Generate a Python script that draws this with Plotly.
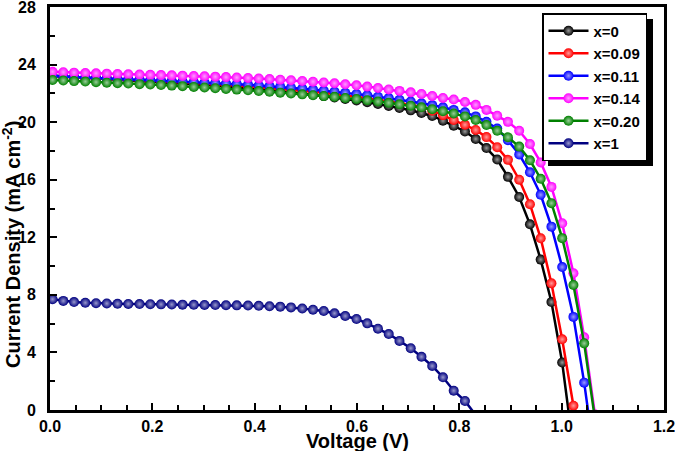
import plotly.graph_objects as go

# Voltage grid (V)
voltage = [0.005, 0.026, 0.047, 0.069, 0.090, 0.111, 0.132, 0.153, 0.175, 0.196,
           0.217, 0.238, 0.259, 0.281, 0.302, 0.323, 0.344, 0.365, 0.387, 0.408,
           0.429, 0.450, 0.471, 0.493, 0.514, 0.535, 0.556, 0.577, 0.599, 0.620,
           0.641, 0.662, 0.683, 0.705, 0.726, 0.747, 0.768, 0.789, 0.811, 0.832,
           0.853, 0.874, 0.895, 0.917, 0.938, 0.959, 0.980, 1.001, 1.023, 1.044,
           1.065, 1.086]

# Current density (mA cm^-2)
j_x0 = [23.20, 23.15, 23.11, 23.07, 23.03, 22.99, 22.95, 22.91, 22.87, 22.83,
        22.79, 22.74, 22.69, 22.64, 22.59, 22.54, 22.48, 22.42, 22.36, 22.29,
        22.22, 22.15, 22.07, 21.99, 21.90, 21.81, 21.71, 21.61, 21.50, 21.38,
        21.26, 21.13, 20.98, 20.82, 20.64, 20.43, 20.10, 19.75, 19.35, 18.83,
        18.20, 17.40, 16.20, 14.80, 12.90, 10.45, 7.50, 3.30, -2.70]

j_x009 = [23.18, 23.14, 23.10, 23.07, 23.04, 23.01, 22.98, 22.95, 22.92, 22.88,
          22.85, 22.81, 22.77, 22.73, 22.69, 22.65, 22.60, 22.55, 22.50, 22.45,
          22.39, 22.33, 22.26, 22.19, 22.12, 22.04, 21.96, 21.87, 21.78, 21.68,
          21.57, 21.46, 21.34, 21.21, 21.06, 20.80, 20.48, 20.15, 19.82, 19.46,
          18.96, 18.26, 17.38, 16.00, 14.30, 11.93, 8.80, 4.91, 0.30, -4.50]

j_x011 = [23.20, 23.16, 23.12, 23.09, 23.06, 23.03, 23.00, 22.97, 22.94, 22.91,
          22.88, 22.85, 22.82, 22.79, 22.76, 22.72, 22.68, 22.64, 22.60, 22.55,
          22.50, 22.45, 22.39, 22.33, 22.26, 22.19, 22.12, 22.04, 21.96, 21.87,
          21.77, 21.67, 21.56, 21.44, 21.31, 21.18, 21.03, 20.85, 20.68, 20.40,
          20.02, 19.55, 18.75, 17.75, 16.52, 14.95, 12.74, 9.93, 6.47, 1.90,
          -3.50]

j_x014 = [23.50, 23.47, 23.44, 23.41, 23.39, 23.37, 23.35, 23.33, 23.31, 23.29,
          23.27, 23.25, 23.23, 23.21, 23.19, 23.16, 23.13, 23.10, 23.07, 23.03,
          22.99, 22.95, 22.91, 22.86, 22.81, 22.76, 22.70, 22.63, 22.56, 22.47,
          22.37, 22.27, 22.17, 22.07, 21.96, 21.82, 21.68, 21.57, 21.40, 21.20,
          20.85, 20.45, 20.02, 19.40, 18.48, 17.20, 15.50, 12.97, 9.50, 5.05,
          -0.30]

j_x020 = [22.93, 22.89, 22.85, 22.82, 22.78, 22.74, 22.71, 22.68, 22.64, 22.61,
          22.58, 22.54, 22.50, 22.45, 22.41, 22.36, 22.31, 22.26, 22.21, 22.16,
          22.11, 22.05, 21.99, 21.93, 21.87, 21.81, 21.76, 21.68, 21.61, 21.52,
          21.43, 21.34, 21.24, 21.14, 21.03, 20.90, 20.76, 20.60, 20.40, 20.15,
          19.80, 19.40, 18.95, 18.30, 17.35, 16.07, 14.37, 11.94, 8.69, 4.63,
          -0.60]

j_x1 = [7.70, 7.58, 7.50, 7.45, 7.42, 7.40, 7.38, 7.37, 7.36, 7.35,
        7.34, 7.33, 7.32, 7.31, 7.30, 7.29, 7.28, 7.27, 7.26, 7.24,
        7.21, 7.18, 7.13, 7.05, 6.97, 6.88, 6.72, 6.53, 6.32, 6.02,
        5.65, 5.28, 4.80, 4.29, 3.70, 3.06, 2.27, 1.34, 0.63, -0.35]

series_names = ["x=0", "x=0.09", "x=0.11", "x=0.14", "x=0.20", "x=1"]
series_values = [j_x0, j_x009, j_x011, j_x014, j_x020, j_x1]
series_colors = ["#000000", "#ff0000", "#0000ff", "#ff00ff", "#008000", "#000080"]

x_ticks = [0.0, 0.2, 0.4, 0.6, 0.8, 1.0, 1.2]
y_ticks = [0, 4, 8, 12, 16, 20, 24, 28]


def tint(hex_color, amount):
    r = int(hex_color[1:3], 16)
    g = int(hex_color[3:5], 16)
    b = int(hex_color[5:7], 16)
    r = int(r + (255 - r) * amount)
    g = int(g + (255 - g) * amount)
    b = int(b + (255 - b) * amount)
    return f"rgb({r},{g},{b})"


FONT = "Arial, 'Liberation Sans', Helvetica, sans-serif"

# plot-area geometry in pixels
W, H = 675, 451
L, R, T, B = 50, 664, 7, 410
PW, PH = R - L, B - T


def px(xp):
    return (xp - L) / PW


def py(yp):
    return (B - yp) / PH


fig = go.Figure()
for name, vals, color in zip(series_names, series_values, series_colors):
    fig.add_trace(go.Scatter(
        x=voltage[:len(vals)], y=vals, mode="lines+markers", name=name,
        line=dict(color=color, width=2.5),
        marker=dict(size=10, color=color,
                    gradient=dict(type="radial", color=tint(color, 0.6)),
                    line=dict(width=0)),
    ))

axis_common = dict(
    showline=True, linewidth=3, linecolor="black", mirror=True,
    ticks="inside", ticklen=7, tickwidth=2, tickcolor="black",
    showgrid=False, zeroline=False, automargin=False,
    ticklabeloverflow="allow",
    tickfont=dict(family=FONT, size=16, color="black", weight="bold"),
)

LEG_L, LEG_T, LEG_R, LEG_B = 542, 13, 647, 160

fig.update_layout(
    width=W, height=H,
    margin=dict(l=L, r=W - R, t=T, b=H - B),
    paper_bgcolor="white", plot_bgcolor="white",
    showlegend=True,
    legend=dict(
        x=px(LEG_L), y=py(LEG_T), xanchor="left", yanchor="top",
        bgcolor="white", bordercolor="black", borderwidth=1.5,
        font=dict(family=FONT, size=15, color="black", weight="bold"),
        tracegroupgap=0, itemwidth=40,
    ),
    xaxis=dict(range=[0, 1.2], tickvals=x_ticks, tickformat=".1f",
               minor=dict(dtick=0.05, ticks="inside", ticklen=5, tickwidth=2, tickcolor="black"),
               **axis_common),
    yaxis=dict(range=[0, 28], tickvals=y_ticks, ticklabelstandoff=8,
               minor=dict(dtick=2, ticks="inside", ticklen=5, tickwidth=2, tickcolor="black"),
               **axis_common),
    shapes=[dict(type="rect", xref="paper", yref="paper",
                 x0=px(LEG_L + 6), x1=px(LEG_R + 6),
                 y0=py(LEG_B + 6), y1=py(LEG_T + 6),
                 fillcolor="black", line=dict(width=0), layer="above")],
    annotations=[
        dict(text="Voltage (V)", xref="paper", yref="paper", x=0.5, y=py(441),
             xanchor="center", yanchor="middle", showarrow=False,
             font=dict(family=FONT, size=20, color="black", weight="bold")),
        dict(text="Current Density (mA cm<sup>-2</sup>)", xref="paper", yref="paper",
             x=px(11), y=py(245), textangle=-90,
             xanchor="center", yanchor="middle", showarrow=False,
             font=dict(family=FONT, size=20, color="black", weight="bold")),
    ],
)

fig.write_html("out.html", config={"displayModeBar": False},
               post_script="document.body.style.margin='0';")
